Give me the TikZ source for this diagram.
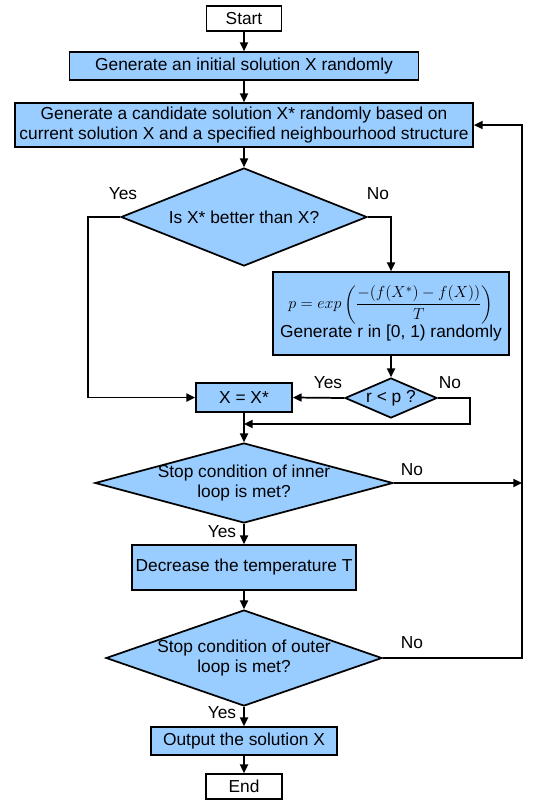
\documentclass[tikz,border=0pt]{standalone}
\usepackage{amsmath}
\usepackage{fontspec}
\setmainfont{Liberation Sans}
\usetikzlibrary{shapes.geometric,arrows.meta}
\definecolor{procblue}{RGB}{153,204,255}
\begin{document}
\begin{tikzpicture}[x=0.75pt,y=-0.75pt,
		font=\fontsize{13}{15}\selectfont,
		box/.style={draw,line width=1.3pt,fill=procblue,inner sep=0pt,align=center},
		term/.style={draw,line width=1.3pt,fill=white,inner sep=0pt},
		dec/.style={draw,line width=1.3pt,fill=procblue,diamond,inner sep=0pt},
		flow/.style={-{Triangle[length=6.5pt,width=6pt]},line width=1.3pt},
		lbl/.style={inner sep=0pt}]
		\useasboundingbox (0,0) rectangle (542,800);
		% main column
		\node[term,minimum width=56.25pt,minimum height=18.75pt] (start) at (244,18.5) {Start};
		\node[box,minimum width=261.75pt,minimum height=21pt] (init) at (244,66) {Generate an initial solution X randomly};
		\node[box,minimum width=343.5pt,minimum height=33pt] (cand) at (244,125) {Generate a candidate solution X* randomly based on\\current solution X and a specified neighbourhood structure};
		\node[dec,minimum width=184.5pt,minimum height=73.5pt,label={center:Is X* better than X?}] (better) at (244,217) {};
		\node[box,minimum width=177pt,minimum height=62.25pt] (prob) at (391,313.5) {$p = exp\left(\dfrac{-(f(X^*)-f(X))}{T}\right)$\\Generate r in [0, 1) randomly};
		\node[dec,minimum width=69pt,minimum height=30pt,label={center:r < p ?}] (accept) at (391,398) {};
		\node[box,minimum width=72pt,minimum height=21.75pt] (update) at (244,397.5) {X = X*};
		\node[dec,minimum width=223.5pt,minimum height=60pt,label={[align=center]center:Stop condition of inner\\loop is met?}] (inner) at (244,483) {};
		\node[box,minimum width=168pt,minimum height=33.75pt] (cool) at (244,567.5) {Decrease the temperature T};
		\node[dec,minimum width=207pt,minimum height=72pt,label={[align=center]center:Stop condition of outer\\loop is met?}] (outer) at (244,658) {};
		\node[box,minimum width=139.5pt,minimum height=21pt] (output) at (244,741) {Output the solution X};
		\node[term,minimum width=57pt,minimum height=18.75pt] (end) at (244,786.5) {End};
		% bends
		\coordinate (yesbend) at (88,217);
		\coordinate (nobend) at (470,398);
		\coordinate (join) at (244,424);
		\coordinate (loopr) at (522,658);
		% connectors
		\draw[flow] (start) -- (init);
		\draw[flow] (init) -- (cand);
		\draw[flow] (cand) -- (better);
		\draw[flow] (better.west) -- (yesbend) |- (update.west);
		\draw[flow] (better.east) -| (prob.north);
		\draw[flow] (prob) -- (accept);
		\draw[flow] (accept.west) -- (update.east);
		\draw[flow] (accept.east) -- (nobend) |- (join);
		\draw[flow] (update) -- (inner);
		\draw[flow] (inner.east) -- (inner.east -| loopr);
		\draw[flow] (outer.east) -- (loopr) |- (cand.east);
		\draw[flow] (inner) -- (cool);
		\draw[flow] (cool) -- (outer);
		\draw[flow] (outer) -- (output);
		\draw[flow] (output) -- (end);
		% branch labels
		\node[lbl] (yes1) at (123,194) {Yes};
		\node[lbl] (no1) at (378,194) {No};
		\node[lbl] (yes2) at (328,383) {Yes};
		\node[lbl] (no2) at (450,383) {No};
		\node[lbl] (no3) at (412,470) {No};
		\node[lbl] (yes3) at (222,532) {Yes};
		\node[lbl] (no4) at (412,643) {No};
		\node[lbl] (yes4) at (222,713) {Yes};
	\end{tikzpicture}
\end{document}
